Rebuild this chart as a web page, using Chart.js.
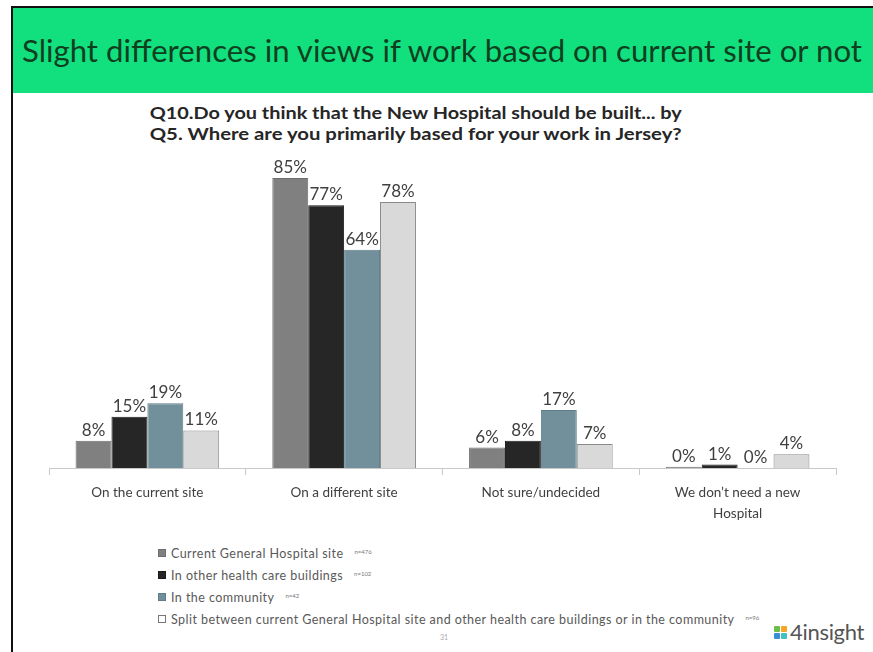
<!DOCTYPE html>
<html>
<head>
<meta charset="utf-8">
<script src="https://cdn.jsdelivr.net/npm/chart.js@4"></script>
<style>
  html, body { margin: 0; padding: 0; background: #fff; }
  body { width: 873px; height: 652px; position: relative; overflow: hidden; font-family: Lato, "Open Sans", sans-serif; }
  #frameTop { position: absolute; left: 11px; top: 6px; width: 862px; height: 2px; background: #111; }
  #frameLeft { position: absolute; left: 11px; top: 6px; width: 2px; height: 646px; background: #111; }
  #banner { position: absolute; left: 13px; top: 8px; width: 860px; height: 85px; background: #12e07e; }
  #headline { position: absolute; left: 22px; top: 35px; font-size: 31px; line-height: 31px; color: #0f3f1e; white-space: nowrap; transform-origin: 0 0; }
  .qline { position: absolute; left: 0; width: 873px; text-align: center; font-weight: bold; font-size: 17px; line-height: 20px; color: #262626; white-space: nowrap; }
  .qline span { display: inline-block; transform-origin: 50% 50%; }
  #chart { position: absolute; left: 0; top: 0; }
  #legend { position: absolute; left: 158px; top: 542px; font-size: 12.5px; letter-spacing: 0.45px; color: #595959; }
  .row { height: 22px; display: flex; align-items: center; white-space: nowrap; }
  .box { width: 8px; height: 8px; box-sizing: border-box; border: 1px solid #555; margin-right: 5px; }
  .n { font-size: 6px; letter-spacing: 0; margin-left: 11px; position: relative; top: -2px; color: #777; }
  #page { position: absolute; left: 440px; top: 633px; font-size: 7px; color: #aaa; }
  #logo { position: absolute; left: 774px; top: 621px; display: flex; align-items: center; }
  .sq { display: grid; grid-template-columns: 6px 6px; grid-gap: 1px; margin-right: 3px; }
  .sq span { width: 6px; height: 6px; border-radius: 1px; display: block; }
  #logoText { font-size: 22px; color: #555; letter-spacing: -0.3px; line-height: 22px; }
</style>
</head>
<body>
<div id="frameTop"></div>
<div id="frameLeft"></div>
<div id="banner"></div>
<div id="headline">Slight differences in views if work based on current site or not</div>
<div class="qline" style="top:103px"><span>Q10.Do you think that the New Hospital should be built... by</span></div>
<div class="qline" style="top:124px"><span>Q5. Where are you primarily based for your work in Jersey?</span></div>
<canvas id="chart" width="873" height="540"></canvas>
<div id="legend"></div>
<div id="page">31</div>
<div id="logo">
  <div class="sq"><span style="background:#6cc04a"></span><span style="background:#f5a623"></span><span style="background:#3b8ed6"></span><span style="background:#41c1c0"></span></div>
  <div id="logoText">4insight</div>
</div>
<script>
// Answer options (x categories)
const categories = [
  "On the current site",
  "On a different site",
  "Not sure/undecided",
  ["We don\u2019t need a new", "Hospital"]
];

// Work location groups and their base sizes
const seriesNames = [
  "Current General Hospital site",
  "In other health care buildings",
  "In the community",
  "Split between current General Hospital site and other health care buildings or in the community"
];
const seriesBases = ["n=476", "n=102", "n=42", "n=96"];

// Percentages per group, in category order
const currentGeneralSite = [8, 85, 6, 0.4];
const otherHealthBuildings = [15, 77, 8, 1];
const inCommunity = [19, 64, 17, 0];
const splitBetween = [11, 78, 7, 4];

const seriesValues = [currentGeneralSite, otherHealthBuildings, inCommunity, splitBetween];
const fills = ["#808080", "#262626", "#72909c", "#d9d9d9"];
const borders = ["#6e6e6e", "#1a1a1a", "#5f7c88", "#8a8a8a"];

// Stretch the banner headline across the banner
const head = document.getElementById("headline");
head.style.transform = "scaleX(" + (840 / head.getBoundingClientRect().width) + ")";

// Both question lines share the same width, centred at x = 415
document.querySelectorAll(".qline span").forEach(s => {
  s.style.transform = "translateX(-21px) scaleX(" + (532 / s.getBoundingClientRect().width) + ")";
});

// Legend
const legend = document.getElementById("legend");
seriesNames.forEach((name, i) => {
  const row = document.createElement("div");
  row.className = "row";
  const box = document.createElement("span");
  box.className = "box";
  box.style.background = i === 3 ? "#ffffff" : fills[i];
  box.style.borderColor = i === 3 ? "#777" : borders[i];
  const t = document.createElement("span");
  t.textContent = name;
  const n = document.createElement("span");
  n.className = "n";
  n.textContent = seriesBases[i];
  row.appendChild(box); row.appendChild(t); row.appendChild(n);
  legend.appendChild(row);
});

// Value labels above each bar
const valueLabels = {
  id: "valueLabels",
  afterDatasetsDraw(chart) {
    const ctx = chart.ctx;
    ctx.save();
    ctx.font = "17px Lato, 'Open Sans', sans-serif";
    ctx.fillStyle = "#404040";
    ctx.textAlign = "center";
    ctx.textBaseline = "alphabetic";
    chart.data.datasets.forEach((ds, di) => {
      chart.getDatasetMeta(di).data.forEach((bar, i) => {
        ctx.fillText(Math.round(ds.data[i]) + "%", bar.x, bar.y - 5);
      });
    });
    ctx.restore();
  }
};

new Chart(document.getElementById("chart"), {
  type: "bar",
  data: {
    labels: categories,
    datasets: seriesNames.map((name, i) => ({
      label: name,
      data: seriesValues[i],
      backgroundColor: fills[i],
      borderColor: borders[i],
      borderWidth: 1,
      categoryPercentage: 0.73,
      barPercentage: 1.0
    }))
  },
  options: {
    responsive: false,
    animation: false,
    devicePixelRatio: 1,
    layout: { padding: { left: 49, right: 37, top: 161, bottom: 0 } },
    plugins: { legend: { display: false }, tooltip: { enabled: false }, title: { display: false } },
    scales: {
      y: { display: false, min: 0, max: 90 },
      x: {
        afterFit(scale) { scale.height = 72; },
        border: { display: true, color: "#c8c8c8", width: 1 },
        grid: { offset: true, drawOnChartArea: false, drawTicks: true, tickLength: 7, color: "#c8c8c8" },
        ticks: { color: "#404040", font: { family: "Lato, 'Open Sans', sans-serif", size: 13.5, lineHeight: 1.55 }, padding: 7, maxRotation: 0 }
      }
    }
  },
  plugins: [valueLabels]
});
</script>
</body>
</html>
